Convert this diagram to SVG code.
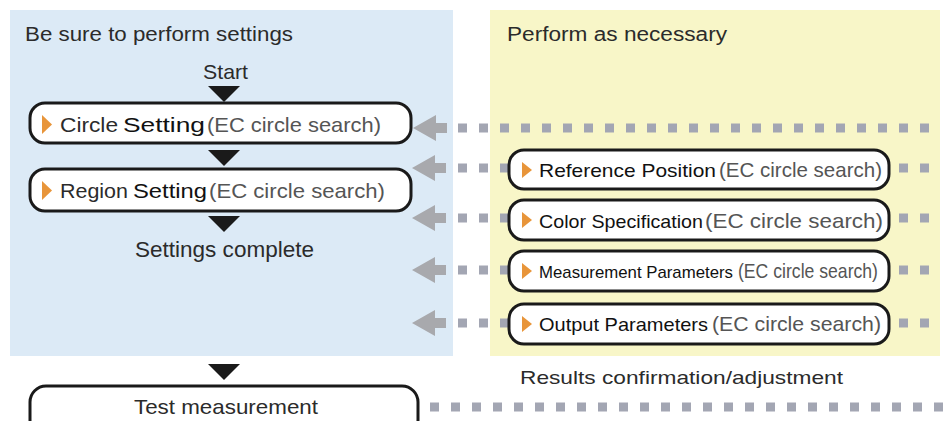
<svg xmlns="http://www.w3.org/2000/svg" width="943" height="421" viewBox="0 0 943 421">
<style>
.box{fill:#fff;stroke:#1a1a1a;stroke-width:3}
.t{font-family:"Liberation Sans",Arial,sans-serif;fill:#2b2b2b}
.k{fill:#111}
.ec{font-family:"Liberation Sans",Arial,sans-serif;font-size:21px;fill:#555}
.dot{stroke:#a3a6b3;stroke-width:9;stroke-dasharray:9 12;fill:none}
.arr{fill:#a8a9ad}
.tri{fill:#1a1a1a}
.or{fill:#e8953a}
</style>
<rect x="0" y="0" width="943" height="421" fill="#fff"/>
<rect x="10" y="10" width="443" height="346" fill="#dceaf6"/>
<rect x="490" y="10" width="450" height="346" fill="#f8f6c8"/>
<text class="t" x="25" y="41" font-size="20" textLength="268" lengthAdjust="spacingAndGlyphs">Be sure to perform settings</text>
<text class="t" x="507" y="41" font-size="20" textLength="220" lengthAdjust="spacingAndGlyphs">Perform as necessary</text>
<text class="t" x="203" y="79" font-size="21" textLength="45" lengthAdjust="spacingAndGlyphs">Start</text>
<text class="t" x="135" y="257" font-size="22" textLength="179" lengthAdjust="spacingAndGlyphs">Settings complete</text>
<text class="t" x="520" y="384" font-size="19" textLength="323" lengthAdjust="spacingAndGlyphs">Results confirmation/adjustment</text>

<g id="connectors">
<line class="dot" x1="458" y1="128" x2="935" y2="128"/>
<line class="dot" x1="458" y1="168" x2="935" y2="168"/>
<line class="dot" x1="458" y1="218" x2="935" y2="218"/>
<line class="dot" x1="458" y1="270" x2="935" y2="270"/>
<line class="dot" x1="458" y1="323" x2="935" y2="323"/>
<line class="dot" x1="430" y1="407" x2="943" y2="407"/>
<polygon class="arr" points="413,128 436,115 436,123 447,123 447,133 436,133 436,141"/>
<polygon class="arr" points="412,168 435,155 435,163 446,163 446,173 435,173 435,181"/>
<polygon class="arr" points="412,218 435,205 435,213 446,213 446,223 435,223 435,231"/>
<polygon class="arr" points="412,270 435,257 435,265 446,265 446,275 435,275 435,283"/>
<polygon class="arr" points="412,323 435,310 435,318 446,318 446,328 435,328 435,336"/>
<polygon class="tri" points="208,86 240,86 224,102"/>
<polygon class="tri" points="208,150 240,150 224,166"/>
<polygon class="tri" points="208,216 240,216 224,232"/>
<polygon class="tri" points="208,364 240,364 224,380"/>
</g>

<g id="circle-setting">
<rect class="box" x="30" y="103" width="381" height="40" rx="15"/>
<polygon class="or" points="42,115 52,124.5 42,134"/>
<text class="t" x="60" y="132" font-size="21" textLength="58" lengthAdjust="spacingAndGlyphs">Circle</text>
<text class="t k" x="123" y="132" font-size="21" textLength="82" lengthAdjust="spacingAndGlyphs">Setting</text>
<text class="ec" x="207" y="132" textLength="174" lengthAdjust="spacingAndGlyphs">(EC circle search)</text>
</g>

<g id="region-setting">
<rect class="box" x="30" y="169" width="381" height="42" rx="15"/>
<polygon class="or" points="42,181 52,190.5 42,200"/>
<text class="t" x="60" y="198" font-size="21" textLength="68" lengthAdjust="spacingAndGlyphs">Region</text>
<text class="t k" x="133" y="198" font-size="21" textLength="74" lengthAdjust="spacingAndGlyphs">Setting</text>
<text class="ec" x="209" y="198" textLength="176" lengthAdjust="spacingAndGlyphs">(EC circle search)</text>
</g>

<g id="reference-position">
<rect class="box" x="509" y="150" width="380" height="39" rx="15"/>
<polygon class="or" points="522,162 532,170 522,178"/>
<text class="t k" x="539" y="177" font-size="19" textLength="177" lengthAdjust="spacingAndGlyphs">Reference Position</text>
<text class="ec" x="719" y="177" textLength="163" lengthAdjust="spacingAndGlyphs">(EC circle search)</text>
</g>

<g id="color-specification">
<rect class="box" x="509" y="200" width="380" height="40" rx="15"/>
<polygon class="or" points="522,212 532,220 522,228"/>
<text class="t k" x="539" y="228" font-size="19" textLength="164" lengthAdjust="spacingAndGlyphs">Color Specification</text>
<text class="ec" x="705" y="228" font-size="22" textLength="178" lengthAdjust="spacingAndGlyphs">(EC circle search)</text>
</g>

<g id="measurement-parameters">
<rect class="box" x="509" y="251" width="380" height="40" rx="15"/>
<polygon class="or" points="522,263 532,271 522,279"/>
<text class="t k" x="539" y="278" font-size="17" textLength="194" lengthAdjust="spacingAndGlyphs">Measurement Parameters</text>
<text class="ec" x="738" y="278" font-size="18" textLength="140" lengthAdjust="spacingAndGlyphs">(EC circle search)</text>
</g>

<g id="output-parameters">
<rect class="box" x="509" y="304" width="380" height="40" rx="15"/>
<polygon class="or" points="522,316 532,324 522,332"/>
<text class="t k" x="539" y="331" font-size="19" textLength="169" lengthAdjust="spacingAndGlyphs">Output Parameters</text>
<text class="ec" x="712" y="331" textLength="169" lengthAdjust="spacingAndGlyphs">(EC circle search)</text>
</g>

<g id="test-measurement">
<rect class="box" x="30" y="386" width="388" height="50" rx="16"/>
<text class="t" x="134" y="414" font-size="21" textLength="184" lengthAdjust="spacingAndGlyphs">Test measurement</text>
</g>
</svg>
